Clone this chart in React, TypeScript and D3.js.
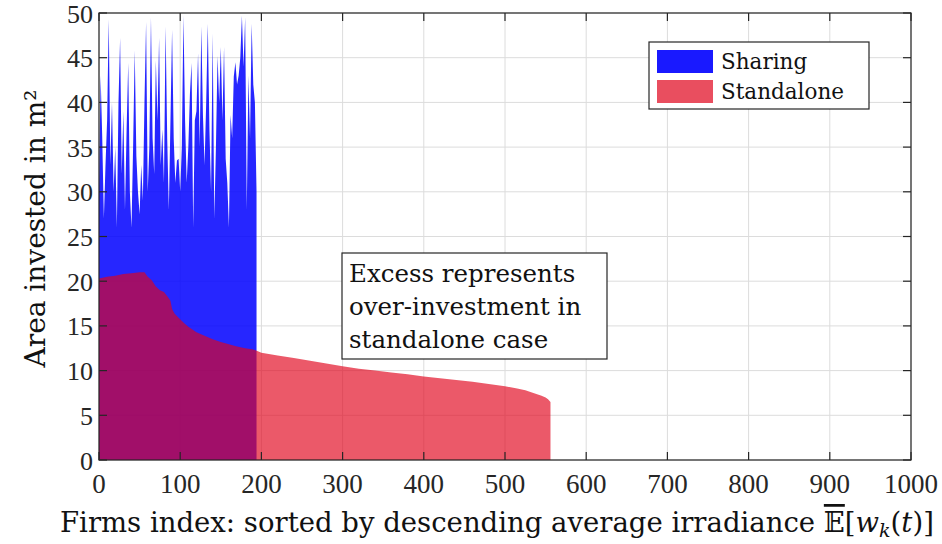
import React from "react";
import * as d3 from "d3";

// Sharing: area per firm (read every 2nd firm, firms 0..194)
const sharingFirms: number[] = [
  0, 2, 4, 6, 8, 10, 12, 14, 16, 18, 20, 22, 24, 26, 28, 30, 32, 34, 36, 38,
  40, 42, 44, 46, 48, 50, 52, 54, 56, 58, 60, 62, 64, 66, 68, 70, 72, 74, 76, 78,
  80, 82, 84, 86, 88, 90, 92, 94, 96, 98, 100, 102, 104, 106, 108, 110, 112, 114, 116, 118,
  120, 122, 124, 126, 128, 130, 132, 134, 136, 138, 140, 142, 144, 146, 148, 150, 152, 154, 156, 158,
  160, 162, 164, 166, 168, 170, 172, 174, 176, 178, 180, 182, 184, 186, 188, 190, 192, 194,
];
const sharingValues: number[] = [
  30, 43, 36, 27, 33, 38, 49.3, 33, 40, 30, 35, 26, 40, 47.2, 32, 39, 28, 37, 44.4, 30,
  26, 35, 45.8, 34, 30, 27.5, 33, 29, 40, 49, 30, 35, 49.5, 36, 32, 44.7, 38, 47.2, 33, 37,
  31, 48.5, 36, 28, 38, 48.1, 36, 31, 33.5, 33.7, 30, 35, 49.7, 38, 31, 35, 41, 44.4, 26, 38,
  39, 45.5, 35, 48.5, 38.6, 33, 40, 48.8, 37, 30, 47.7, 27, 35, 45.2, 40, 46.2, 38, 46.2, 33.7, 31,
  26, 38.6, 36, 42.9, 44.5, 42, 43, 45, 49.7, 44, 49.5, 28, 43, 36, 48.8, 42, 40, 30,
];

// Standalone: area per firm (read at key firms, firms 0..556)
const standaloneFirms: number[] = [
  0, 10, 20, 30, 40, 50, 56, 60, 65, 70, 75, 80, 85, 88, 90, 93, 98, 105, 110, 120,
  130, 140, 150, 160, 170, 180, 190, 195, 200, 220, 240, 260, 280, 300, 320, 340, 360, 380, 400, 420,
  440, 460, 480, 500, 515, 525, 535, 545, 550, 553, 556,
];
const standaloneValues: number[] = [
  20.3, 20.5, 20.6, 20.8, 20.9, 21.0, 21.0, 20.5, 20.1, 19.4, 19.0, 18.8, 18.2, 17.8, 16.9, 16.4, 15.9, 15.3, 14.9, 14.3,
  13.9, 13.5, 13.2, 12.95, 12.7, 12.5, 12.35, 12.2, 12.0, 11.7, 11.4, 11.1, 10.8, 10.5, 10.2, 10.0, 9.8, 9.6, 9.35, 9.15,
  8.95, 8.75, 8.5, 8.25, 8.0, 7.8, 7.5, 7.2, 7.0, 6.8, 6.5,
];

const xTicks: number[] = [0, 100, 200, 300, 400, 500, 600, 700, 800, 900, 1000];
const yTicks: number[] = [0, 5, 10, 15, 20, 25, 30, 35, 40, 45, 50];
const legendLabels: string[] = ["Sharing", "Standalone"];
const annotationLines: string[] = ["Excess represents", "over-investment in", "standalone case"];

const W = 942;
const H = 544;
const L = 99;
const R = 911;
const T = 13;
const B = 460;

const BLUE = "rgb(0,0,255)";
const BLUE_OP = 0.85;
const RED = "rgb(224,3,27)";
const RED_OP = 0.66;
const AXIS = "#262626";
const GRID = "#dcdcdc";
const TICK_FONT = "'Liberation Serif', 'DejaVu Serif', serif";
const TEXT_FONT = "'DejaVu Serif', serif";

export default function App() {
  const x = d3.scaleLinear().domain([0, 1000]).range([L, R]);
  const y = d3.scaleLinear().domain([0, 50]).range([B, T]);

  const sharingData = sharingFirms.map((f, i) => [f, sharingValues[i]] as [number, number]);
  const standaloneData = standaloneFirms.map((f, i) => [f, standaloneValues[i]] as [number, number]);

  const area = d3
    .area<[number, number]>()
    .x((d) => x(d[0]))
    .y0(y(0))
    .y1((d) => y(d[1]))
    .curve(d3.curveLinear);

  const tickLen = 8;

  return (
    <svg
      width={W}
      height={H}
      viewBox={`0 0 ${W} ${H}`}
      style={{ position: "absolute", left: 0, top: 0, background: "#fff" }}
    >
      <rect x={0} y={0} width={W} height={H} fill="#fff" />
      {/* grid */}
      {xTicks.map((t) => (
        <line key={"gx" + t} x1={x(t)} x2={x(t)} y1={T} y2={B} stroke={GRID} strokeWidth={1} />
      ))}
      {yTicks.map((t) => (
        <line key={"gy" + t} x1={L} x2={R} y1={y(t)} y2={y(t)} stroke={GRID} strokeWidth={1} />
      ))}

      {/* areas */}
      <path d={area(sharingData) || ""} fill={BLUE} fillOpacity={BLUE_OP} />
      <path d={area(standaloneData) || ""} fill={RED} fillOpacity={RED_OP} />

      {/* axes box */}
      <rect x={L} y={T} width={R - L} height={B - T} fill="none" stroke={AXIS} strokeWidth={1.2} />
      {xTicks.map((t) => (
        <g key={"tx" + t}>
          <line x1={x(t)} x2={x(t)} y1={B} y2={B - tickLen} stroke={AXIS} strokeWidth={1.2} />
          <line x1={x(t)} x2={x(t)} y1={T} y2={T + tickLen} stroke={AXIS} strokeWidth={1.2} />
          <text
            x={x(t)}
            y={493}
            textAnchor="middle"
            fontFamily={TICK_FONT}
            fontSize={27}
            fill="#262626"
          >
            {t}
          </text>
        </g>
      ))}
      {yTicks.map((t) => (
        <g key={"ty" + t}>
          <line x1={L} x2={L + tickLen} y1={y(t)} y2={y(t)} stroke={AXIS} strokeWidth={1.2} />
          <line x1={R} x2={R - tickLen} y1={y(t)} y2={y(t)} stroke={AXIS} strokeWidth={1.2} />
          <text
            x={93}
            y={y(t) + 1}
            dy="0.33em"
            textAnchor="end"
            fontFamily={TICK_FONT}
            fontSize={26}
            fill="#262626"
          >
            {t}
          </text>
        </g>
      ))}

      {/* y label */}
      <text
        transform={`translate(45, ${(T + B) / 2 - 8}) rotate(-90)`}
        textAnchor="middle"
        fontFamily={TEXT_FONT}
        fontSize={28}
        fill="#111"
      >
        Area invested in m²
      </text>

      {/* x label */}
      <text x={60} y={532} fontFamily={TEXT_FONT} fontSize={27.5} fill="#111">
        Firms index: sorted by descending average irradiance{" "}
        <tspan textDecoration="overline">𝔼</tspan>
        <tspan>[</tspan>
        <tspan fontStyle="italic">w</tspan>
        <tspan fontStyle="italic" fontSize={19} dy={5}>k</tspan>
        <tspan dy={-5}>(</tspan>
        <tspan fontStyle="italic">t</tspan>
        <tspan>)]</tspan>
      </text>

      {/* annotation box */}
      <rect x={342} y={253} width={265} height={106} fill="#fff" stroke="#262626" strokeWidth={1.2} />
      {annotationLines.map((s, i) => (
        <text key={s} x={349} y={282 + i * 33} fontFamily={TEXT_FONT} fontSize={24.5} fill="#111">
          {s}
        </text>
      ))}

      {/* legend */}
      <rect x={649} y={42} width={220} height={67} fill="#fff" stroke="#262626" strokeWidth={1.2} />
      {legendLabels.map((s, i) => (
        <g key={s}>
          <rect
            x={657}
            y={50 + i * 30}
            width={56}
            height={23}
            fill={i === 0 ? BLUE : RED}
            fillOpacity={i === 0 ? 0.9 : 0.7}
          />
          <text x={721} y={69 + i * 30} fontFamily={TEXT_FONT} fontSize={21.5} fill="#111">
            {s}
          </text>
        </g>
      ))}
    </svg>
  );
}
